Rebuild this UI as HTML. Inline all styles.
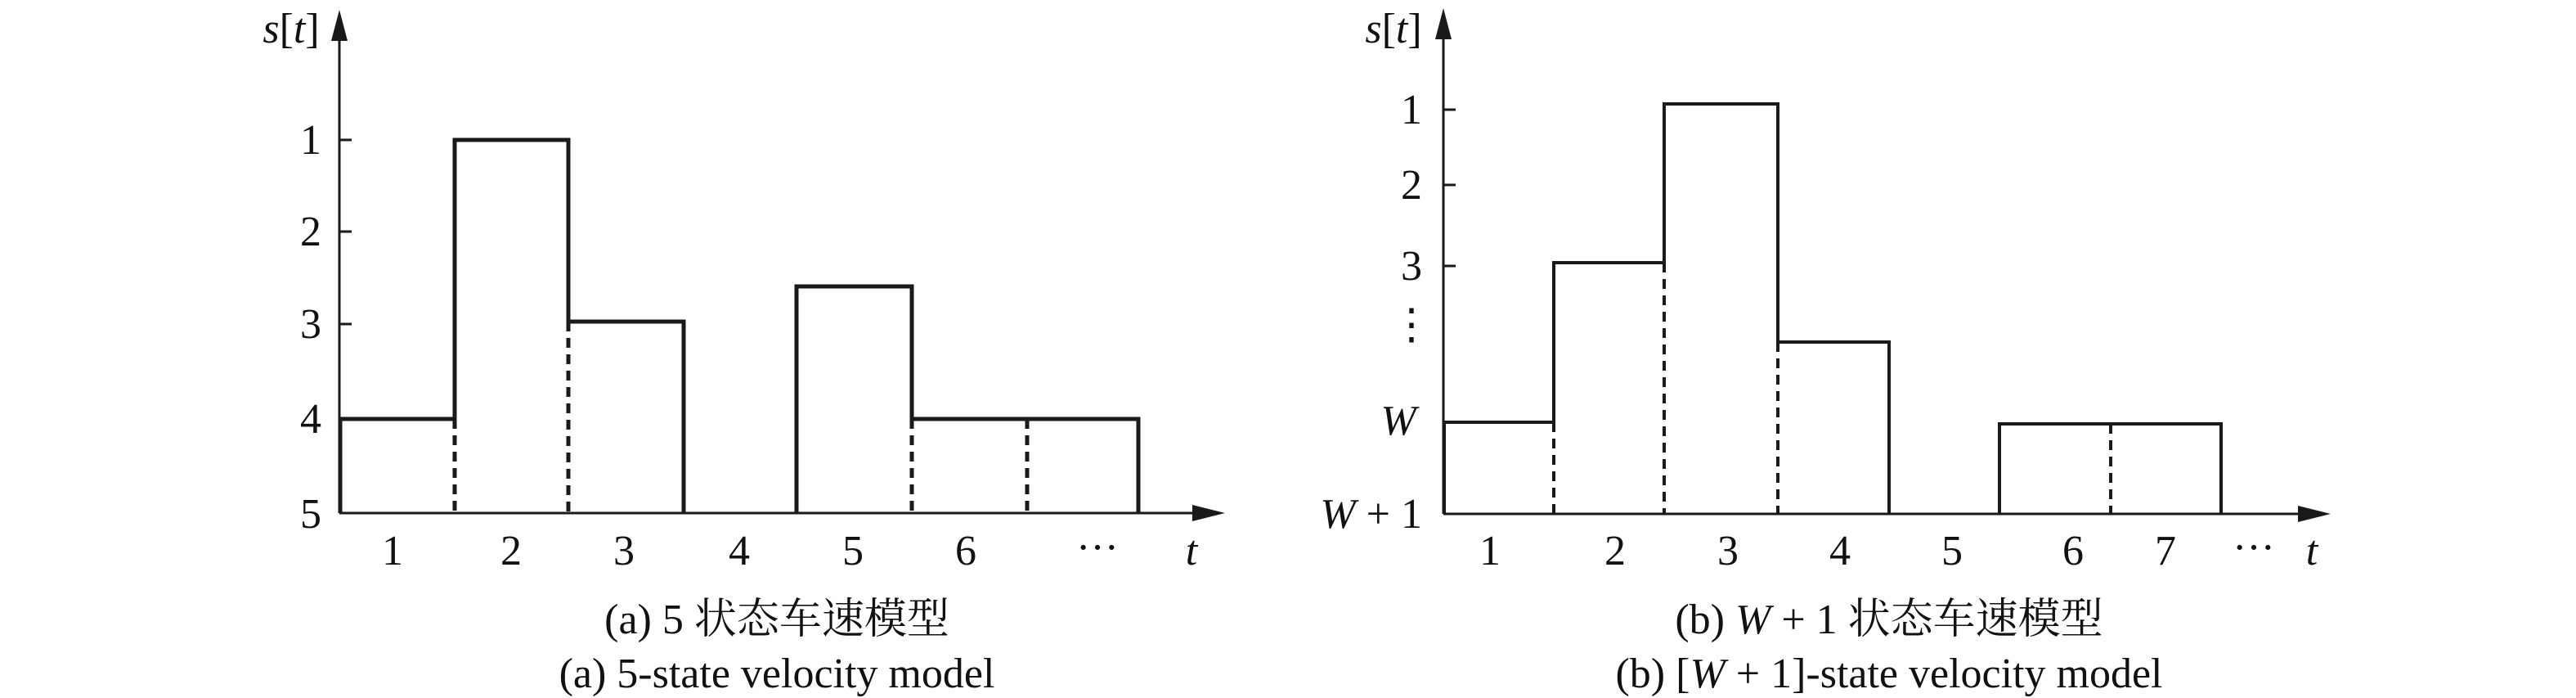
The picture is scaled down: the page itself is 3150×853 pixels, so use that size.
<!DOCTYPE html>
<html><head><meta charset="utf-8"><style>
html,body{margin:0;padding:0;background:#fff;}
svg{display:block;}
text{font-family:"Liberation Serif","Noto Serif CJK SC",serif;fill:#111;}
.i{font-style:italic;}
</style></head><body>
<svg width="3150" height="853" viewBox="0 0 3150 853" xmlns="http://www.w3.org/2000/svg">
<g stroke="#1a1a1a" fill="none">
 <line x1="415" y1="627" x2="415" y2="45" stroke-width="3"/>
 <line x1="415" y1="627" x2="1460" y2="627" stroke-width="3"/>
 <g stroke-width="3">
  <line x1="415" y1="171" x2="430" y2="171"/>
  <line x1="415" y1="283" x2="430" y2="283"/>
  <line x1="415" y1="396" x2="430" y2="396"/>
  <line x1="415" y1="511" x2="430" y2="511"/>
 </g>
 <polyline stroke-width="5" points="416,627 416,512 556,512 556,171 695,171 695,393 836,393 836,627"/>
 <polyline stroke-width="5" points="974,627 974,350 1115,350 1115,512 1392,512 1392,627"/>
 <g stroke-width="5" stroke-dasharray="12,8">
  <line x1="556" y1="512" x2="556" y2="627"/>
  <line x1="695" y1="393" x2="695" y2="627"/>
  <line x1="1115" y1="512" x2="1115" y2="627"/>
  <line x1="1256" y1="512" x2="1256" y2="627"/>
 </g>
 <line x1="1765" y1="628" x2="1765" y2="45" stroke-width="3"/>
 <line x1="1765" y1="628" x2="2812" y2="628" stroke-width="3"/>
 <g stroke-width="3">
  <line x1="1765" y1="134" x2="1780" y2="134"/>
  <line x1="1765" y1="226" x2="1780" y2="226"/>
  <line x1="1765" y1="325" x2="1780" y2="325"/>
 </g>
 <polyline stroke-width="4" points="1766,628 1766,516 1900,516 1900,321 2035,321 2035,127 2174,127 2174,418 2310,418 2310,628"/>
 <polyline stroke-width="4" points="2445,628 2445,518 2716,518 2716,628"/>
 <g stroke-width="4" stroke-dasharray="12,8">
  <line x1="1900" y1="516" x2="1900" y2="628"/>
  <line x1="2035" y1="321" x2="2035" y2="628"/>
  <line x1="2174" y1="418" x2="2174" y2="628"/>
  <line x1="2581" y1="518" x2="2581" y2="628"/>
 </g>
</g>
<g fill="#1a1a1a">
 <polygon points="415,12 405,50 425,50"/>
 <polygon points="1498,627 1458,617 1458,637"/>
 <polygon points="1765,10 1755,48 1775,48"/>
 <polygon points="2850,628 2810,618 2810,638"/>
</g>
<g font-size="52" text-anchor="middle">
 <text x="356" y="52" class="i">s<tspan font-style="normal">[</tspan>t<tspan font-style="normal">]</tspan></text>
 <text x="380" y="188">1</text>
 <text x="380" y="300">2</text>
 <text x="380" y="413">3</text>
 <text x="380" y="529">4</text>
 <text x="380" y="645">5</text>
 <text x="480" y="690">1</text>
 <text x="625" y="690">2</text>
 <text x="763" y="690">3</text>
 <text x="904" y="690">4</text>
 <text x="1043" y="690">5</text>
 <text x="1181" y="690">6</text>
 <text x="1342" y="686">···</text>
 <text x="1457" y="690" class="i">t</text>
</g>
<g font-size="52" text-anchor="middle">
 <text x="950" y="774">(a) 5 状态车速模型</text>
 <text x="950" y="840">(a) 5-state velocity model</text>
</g>
<g font-size="52" text-anchor="middle">
 <text x="1704" y="52" class="i">s<tspan font-style="normal">[</tspan>t<tspan font-style="normal">]</tspan></text>
 <text x="1726" y="151">1</text>
 <text x="1726" y="243">2</text>
 <text x="1726" y="342">3</text>
 <text x="1726" y="414">⋮</text>
 <text x="1710" y="531" class="i">W</text>
 <text x="1739" y="645" text-anchor="end"><tspan class="i">W</tspan> + 1</text>
 <text x="1822" y="690">1</text>
 <text x="1975" y="690">2</text>
 <text x="2113" y="690">3</text>
 <text x="2250" y="690">4</text>
 <text x="2387" y="690">5</text>
 <text x="2535" y="690">6</text>
 <text x="2648" y="690">7</text>
 <text x="2756" y="686">···</text>
 <text x="2827" y="690" class="i">t</text>
</g>
<g font-size="52" text-anchor="middle">
 <text x="2310" y="774">(b) <tspan class="i">W</tspan> + 1 状态车速模型</text>
 <text x="2310" y="840">(b) [<tspan class="i">W</tspan> + 1]-state velocity model</text>
</g>
</svg>
</body></html>
